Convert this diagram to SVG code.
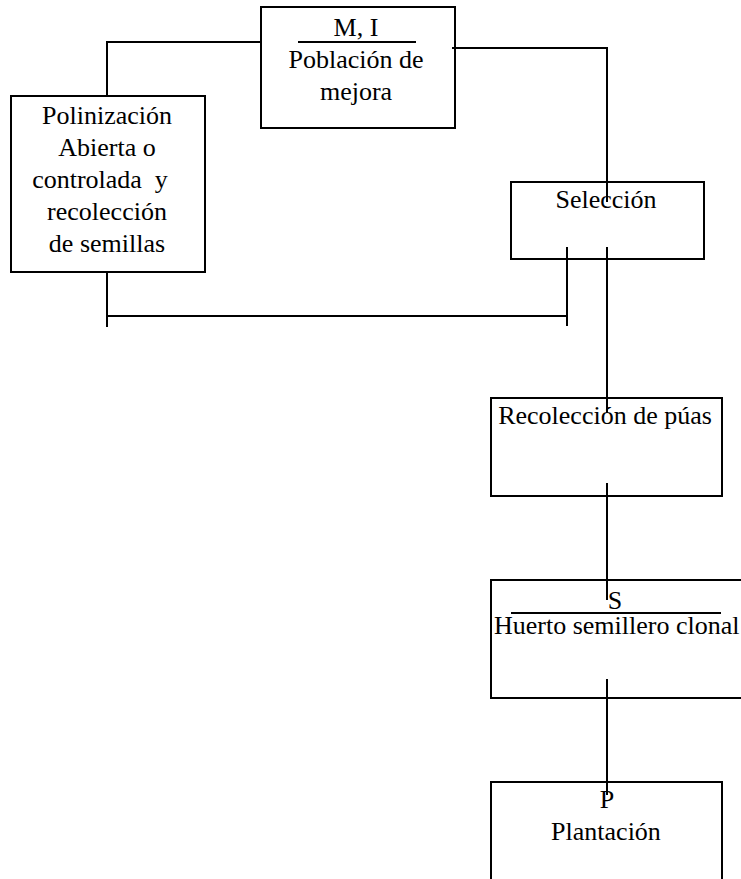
<svg xmlns="http://www.w3.org/2000/svg" width="741" height="879" viewBox="0 0 741 879">
  <style>
    .box { fill: #ffffff; stroke: #000000; stroke-width: 2; }
    .rule { stroke: #000000; stroke-width: 2; }
    .wire { fill: none; stroke: #000000; stroke-width: 2; }
    text { font-family: "Liberation Serif", "Times New Roman", "DejaVu Serif", serif; font-size: 26px; fill: #000000; }
    .c { text-anchor: middle; }
  </style>
  <rect width="741" height="879" fill="#ffffff"/>

  <!-- nodes -->
  <g id="poblacion-mejora">
    <rect class="box" x="261" y="7" width="194" height="121"/>
    <text class="c" x="356" y="36">M, I</text>
    <line class="rule" x1="298" y1="42" x2="416" y2="42"/>
    <text class="c" x="356" y="68">Población de</text>
    <text class="c" x="356" y="100">mejora</text>
  </g>

  <g id="polinizacion">
    <rect class="box" x="11" y="96" width="194" height="176"/>
    <text class="c" x="107" y="124">Polinización</text>
    <text class="c" x="107" y="156">Abierta o</text>
    <text class="c" x="100" y="188" xml:space="preserve">controlada  y</text>
    <text class="c" x="107" y="220">recolección</text>
    <text class="c" x="107" y="252">de semillas</text>
  </g>

  <g id="seleccion">
    <rect class="box" x="511" y="182" width="193" height="77"/>
    <text class="c" x="606" y="208">Selección</text>
  </g>

  <g id="recoleccion-puas">
    <rect class="box" x="491" y="398" width="231" height="98"/>
    <text class="c" x="605" y="424">Recolección de púas</text>
  </g>

  <g id="huerto-semillero">
    <rect class="box" x="491" y="580" width="260" height="118"/>
    <text class="c" x="615" y="609">S</text>
    <line class="rule" x1="511" y1="613" x2="721" y2="613"/>
    <text x="494" y="634">Huerto semillero clonal</text>
  </g>

  <g id="plantacion">
    <rect class="box" x="491" y="782" width="231" height="110"/>
    <text class="c" x="607" y="808">P</text>
    <text class="c" x="606" y="840">Plantación</text>
  </g>

  <!-- connectors -->
  <g id="connectors">
    <polyline class="wire" points="262,42 107,42 107,96"/>
    <polyline class="wire" points="452,48 607,48 607,202"/>
    <line class="wire" x1="107" y1="272" x2="107" y2="327"/>
    <line class="wire" x1="107" y1="316" x2="567" y2="316"/>
    <line class="wire" x1="567" y1="247" x2="567" y2="326"/>
    <line class="wire" x1="607" y1="247" x2="607" y2="413"/>
    <line class="wire" x1="607" y1="483" x2="607" y2="600"/>
    <line class="wire" x1="607" y1="679" x2="607" y2="795"/>
  </g>
</svg>
